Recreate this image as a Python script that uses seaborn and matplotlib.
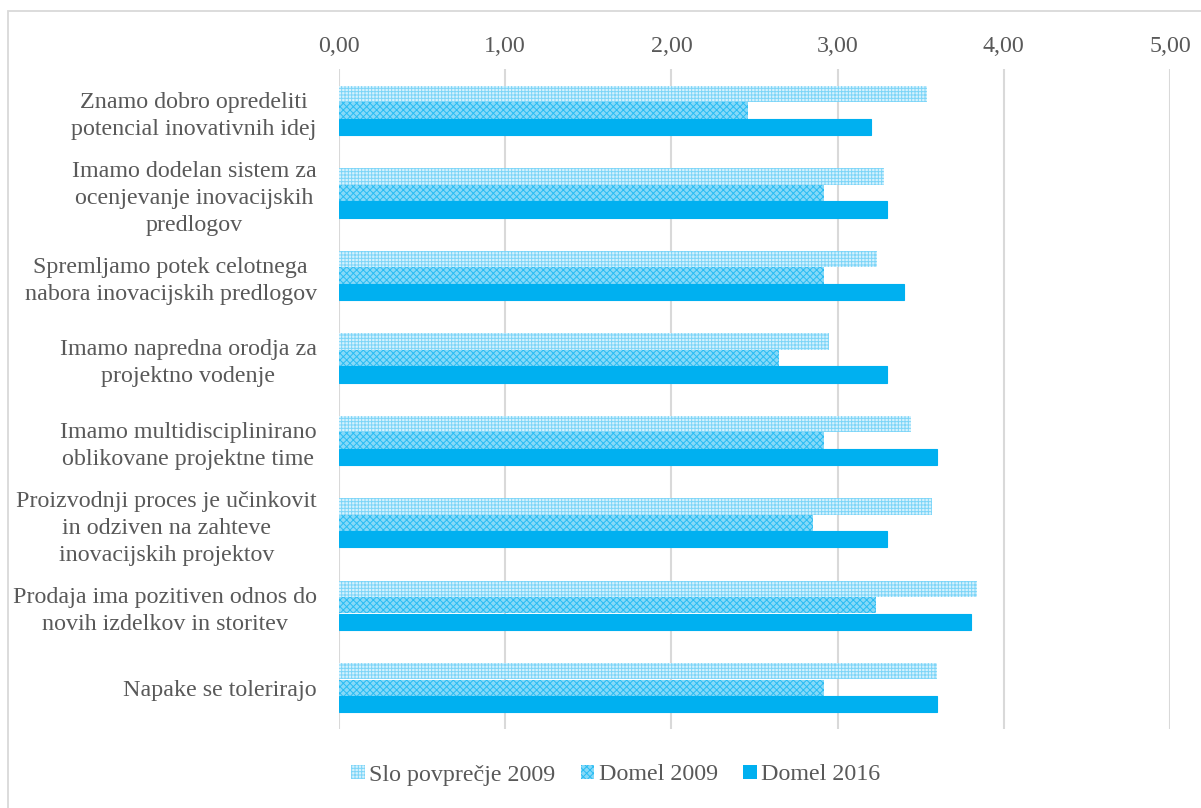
import matplotlib
matplotlib.use("Agg")
import matplotlib.pyplot as plt
from matplotlib.patches import Rectangle, Patch
import seaborn as sns
import pandas as pd

categories = [
    "Znamo dobro opredeliti\npotencial inovativnih idej",
    "Imamo dodelan sistem za\nocenjevanje inovacijskih\npredlogov",
    "Spremljamo potek celotnega\nnabora inovacijskih predlogov",
    "Imamo napredna orodja za\nprojektno vodenje",
    "Imamo multidisciplinirano\noblikovane projektne time",
    "Proizvodnji proces je učinkovit\nin odziven na zahteve\ninovacijskih projektov",
    "Prodaja ima pozitiven odnos do\nnovih izdelkov in storitev",
    "Napake se tolerirajo",
]
series = ["Slo povprečje 2009", "Domel 2009", "Domel 2016"]
slo_2009 = [3.54, 3.28, 3.24, 2.95, 3.44, 3.57, 3.84, 3.60]
domel_2009 = [2.46, 2.92, 2.92, 2.65, 2.92, 2.85, 3.23, 2.92]
domel_2016 = [3.20, 3.30, 3.40, 3.30, 3.60, 3.30, 3.80, 3.60]
xticks = [0, 1, 2, 3, 4, 5]
xtick_labels = ["0,00", "1,00", "2,00", "3,00", "4,00", "5,00"]

rows = []
for name, vals in zip(series, [slo_2009, domel_2009, domel_2016]):
    for c, v in zip(categories, vals):
        rows.append({"cat": c, "series": name, "value": v})
df = pd.DataFrame(rows)

sns.set_theme(style="white")
plt.rcParams["font.family"] = ["Liberation Serif", "DejaVu Serif"]
plt.rcParams["hatch.linewidth"] = 0.7

fig = plt.figure(figsize=(12.01, 8.08), dpi=100)
ax = fig.add_axes([339 / 1201, 1 - 729 / 808, 831 / 1201, 660 / 808])

face = {"Slo povprečje 2009": "#d6f2fd", "Domel 2009": "#86d9f8", "Domel 2016": "#00b0f0"}
hatch = {"Slo povprečje 2009": "+++++", "Domel 2009": "xxxxx", "Domel 2016": None}
hcol = {"Slo povprečje 2009": "#7dd5f8", "Domel 2009": "#28bcf3", "Domel 2016": "#00b0f0"}

sns.barplot(data=df, y="cat", x="value", hue="series", hue_order=series,
            order=categories, orient="h", width=0.6, gap=0, ax=ax,
            palette=[face[s] for s in series], saturation=1, legend=False)

for cont, s in zip(ax.containers, series):
    for p in cont:
        p.set_facecolor(face[s])
        p.set_edgecolor(hcol[s])
        p.set_linewidth(0.0 if hatch[s] else 0.8)
        if hatch[s]:
            p.set_hatch(hatch[s])

ax.set_xlim(0, 5)
ax.set_ylim(len(categories) - 0.5, -0.5)
ax.set_xticks(xticks)
ax.set_xticklabels(xtick_labels)
ax.xaxis.tick_top()
ax.set_xlabel("")
ax.set_ylabel("")
ax.grid(axis="x", color="#d9d9d9", linewidth=1.5)
ax.set_axisbelow(True)
for sp in ax.spines.values():
    sp.set_visible(False)
ax.tick_params(axis="both", length=0, labelsize=17.3, colors="#595959")
ax.tick_params(axis="x", pad=9)
ax.tick_params(axis="y", pad=16)
for t in ax.get_yticklabels():
    t.set_multialignment("center")
    t.set_linespacing(1.38)

handles = [Patch(facecolor=face[s], edgecolor=hcol[s], hatch=hatch[s], linewidth=0) for s in series]
fig.legend(handles, series, loc="center", bbox_to_anchor=(616 / 1201, 1 - 775 / 808),
           ncol=3, frameon=False, fontsize=17.3, handlelength=0.55, handleheight=0.55,
           handletextpad=0.2, columnspacing=1.05, labelcolor="#595959")

fig.patches.append(Rectangle((8 / 1201, -0.1), 1.2, 1.1 - 11 / 808,
                             transform=fig.transFigure, fill=False,
                             edgecolor="#d9d9d9", linewidth=1.3))

fig.savefig("out.png", dpi=100)
